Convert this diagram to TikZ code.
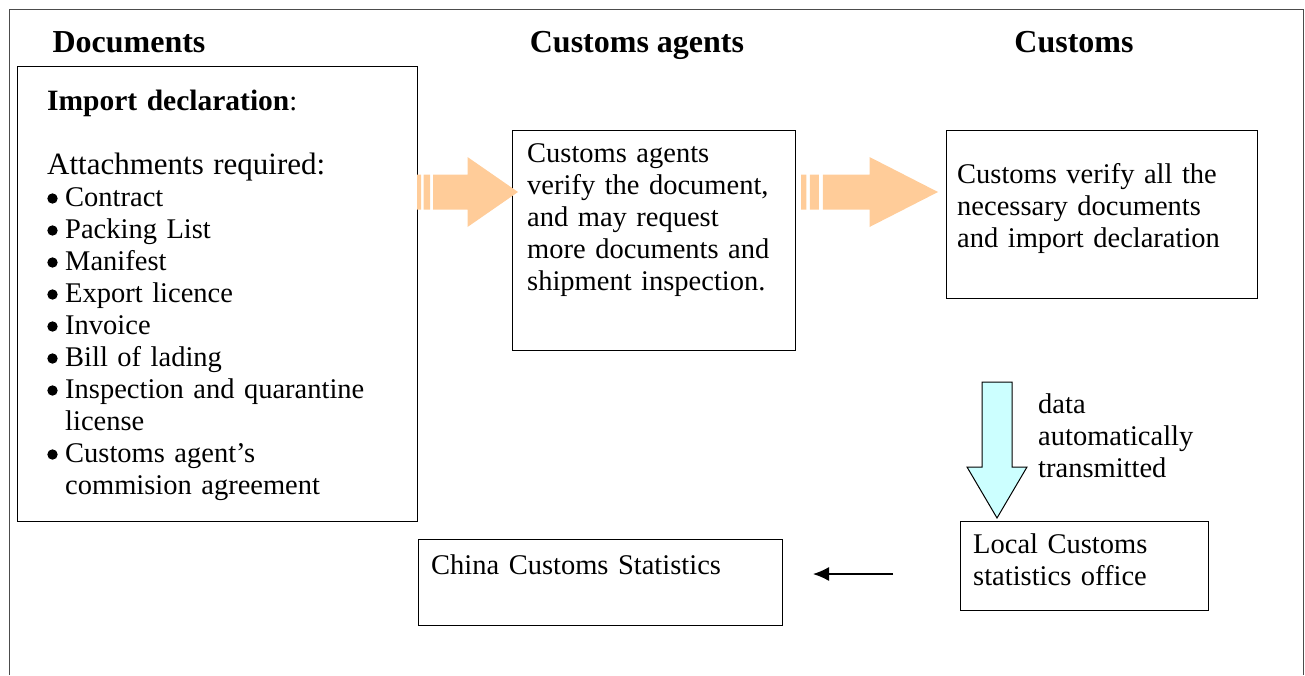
\documentclass[tikz,border=0pt]{standalone}
\usepackage{fontspec}
\setmainfont{Liberation Serif}
\usetikzlibrary{arrows.meta,calc}

\definecolor{peach}{HTML}{FFCC99}
\definecolor{paleblue}{HTML}{CCFFFF}
\newcommand{\diagfont}{\fontsize{28.5}{32}\selectfont}
\newcommand{\indnt}{\hspace*{18pt}}

% striped block arrow from #1 to the tip #2
\newcommand{\stripearrow}[2]{%
  \fill[peach] let \p1=(#1), \p2=(#2) in
    ({\x1},{\y1-17.5pt}) rectangle ({\x1+0.04*(\x2-\x1)},{\y1+17.5pt})
    ({\x1+0.065*(\x2-\x1)},{\y1-17.5pt}) rectangle ({\x1+0.13*(\x2-\x1)},{\y1+17.5pt})
    ({\x1+0.16*(\x2-\x1)},{\y1-17.5pt}) -- ({\x1+0.5*(\x2-\x1)},{\y1-17.5pt})
    -- ({\x1+0.5*(\x2-\x1)},{\y1-35pt}) -- (\x2,\y2)
    -- ({\x1+0.5*(\x2-\x1)},{\y1+35pt}) -- ({\x1+0.5*(\x2-\x1)},{\y1+17.5pt})
    -- ({\x1+0.16*(\x2-\x1)},{\y1+17.5pt}) -- cycle;
}

\begin{document}
\begin{tikzpicture}[x=1pt,y=-1pt,
    box/.style={draw, line width=1.2pt, inner sep=0pt, anchor=north west},
    txt/.style={inner sep=0pt, anchor=base west, align=left, text width=#1, font=\diagfont},
    head/.style={inner sep=0pt, anchor=base, font=\fontsize{32}{32}\selectfont\bfseries}]
\useasboundingbox (0,0) rectangle (1305,675);
\draw[black!70, line width=1pt] (9,675) -- (9,9) -- (1303,9) -- (1303,675);

\node[head] (hdocs) at (129,52) {Documents};
\node[head] (hagents) at (637,52) {Customs agents};
\node[head] (hcustoms) at (1074,52) {Customs};

\node[box, minimum width=400, minimum height=455] (docs) at (17,66) {};
\node[box, minimum width=283, minimum height=220] (agents) at (512,130) {};
\node[box, minimum width=311, minimum height=168] (customs) at (946,130) {};
\node[box, minimum width=248, minimum height=89] (local) at (960,521) {};
\node[box, minimum width=364, minimum height=86] (china) at (418,539) {};

\node[txt=360] (docstxt) at (47,110) {{\fontsize{29.5}{32}\selectfont\textbf{Import declaration}}:\\[32pt]
  {\fontsize{31}{32}\selectfont Attachments required:}\\
  \indnt Contract\\
  \indnt Packing List\\
  \indnt Manifest\\
  \indnt Export licence\\
  \indnt Invoice\\
  \indnt Bill of lading\\
  \indnt Inspection and quarantine\\
  \indnt license\\
  \indnt Customs agent’s\\
  \indnt commision agreement};
% bullets
\foreach \yb in {205,237,269,301,333,365,397,461}
  \fill (52.5,\yb-6.5) circle (5.2);

\node[txt=265] (agentstxt) at (527,162) {Customs agents\\
  verify the document,\\
  and may request\\
  more documents and\\
  shipment inspection.};
\node[txt=295] (customstxt) at (957,183) {Customs verify all the\\
  necessary documents\\
  and import declaration};
\node[txt=200] (datatxt) at (1038,413) {data\\ automatically\\ transmitted};
\node[txt=230] (localtxt) at (973,553) {Local Customs\\ statistics office};
\node[txt=340] (chinatxt) at (431,574) {China Customs Statistics};

\coordinate (a1from) at (417,192);
\coordinate (a1to) at (518,192);
\coordinate (a2from) at (801,192);
\coordinate (a2to) at (938,192);
\stripearrow{a1from}{a1to}
\stripearrow{a2from}{a2to}

\coordinate (dtop) at (997,382);
\coordinate (dtip) at (997,518);
\draw[fill=paleblue, line width=1pt] ([xshift=-15]dtop) -- ([xshift=15]dtop)
  -- ([xshift=15]dtop |- 0,467) -- ([xshift=30]dtop |- 0,467) -- (dtip)
  -- ([xshift=-30]dtop |- 0,467) -- ([xshift=-15]dtop |- 0,467) -- cycle;

\coordinate (sfrom) at (893,574);
\coordinate (sto) at (813,574);
\draw[-{Latex[length=16pt,width=14pt]}, line width=1.3pt] (sfrom) -- (sto);
\end{tikzpicture}
\end{document}
